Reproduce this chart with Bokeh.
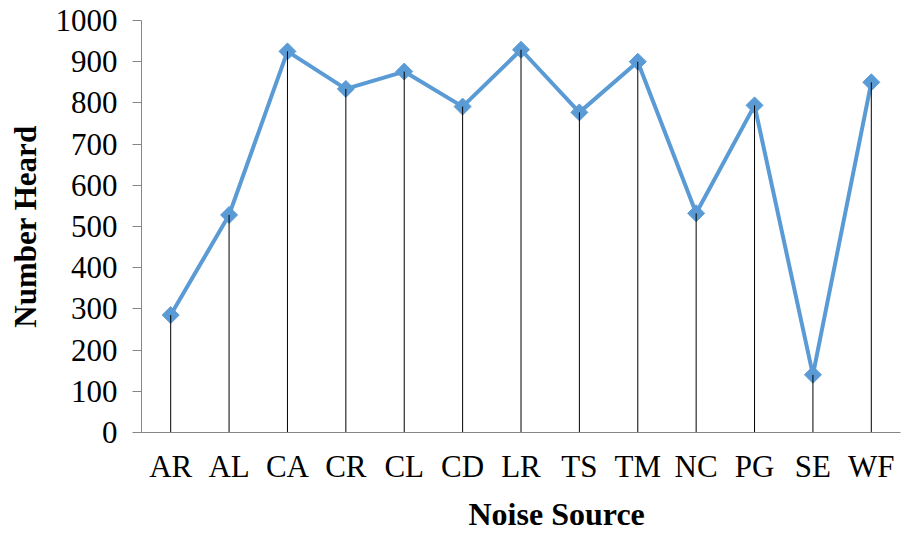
import math
from bokeh.plotting import figure
from bokeh.models import FactorRange, Range1d, ColumnDataSource, FixedTicker, Title
from bokeh.embed import file_html
from bokeh.resources import INLINE

categories = ["AR", "AL", "CA", "CR", "CL", "CD", "LR", "TS", "TM", "NC", "PG", "SE", "WF"]
number_heard = [285, 528, 925, 834, 876, 791, 929, 777, 900, 532, 794, 140, 850]
y_ticks = [0, 100, 200, 300, 400, 500, 600, 700, 800, 900, 1000]

src = ColumnDataSource(dict(cat=categories, val=number_heard, zero=[0] * len(categories)))

p = figure(
    x_range=FactorRange(*categories),
    y_range=Range1d(0, 1000),
    frame_width=759, frame_height=412,
    min_border_left=141, min_border_right=1, min_border_top=20, min_border_bottom=0,
    output_backend="svg", toolbar_location=None,
)
p.outline_line_color = None
p.grid.grid_line_color = None

FONT = "Liberation Serif"
LINE_COLOR = "#5B9BD5"

p.line("cat", "val", source=src, line_color=LINE_COLOR, line_width=4)
p.scatter("cat", "val", source=src, marker="square", angle=math.pi / 4,
          size=12, fill_color=LINE_COLOR, line_color=LINE_COLOR)
p.segment(x0="cat", y0="zero", x1="cat", y1="val", source=src,
          line_color="black", line_width=1)

# y axis
p.yaxis.ticker = FixedTicker(ticks=y_ticks)
p.yaxis.axis_line_color = "#868686"
p.yaxis.major_tick_line_color = "#868686"
p.yaxis.major_tick_out = 9
p.yaxis.major_tick_in = 0
p.yaxis.minor_tick_line_color = None
p.yaxis.major_label_text_font = FONT
p.yaxis.major_label_text_font_size = "31px"
p.yaxis.major_label_text_color = "black"
p.yaxis.major_label_standoff = 15
p.yaxis.axis_label = "Number Heard"
p.yaxis.axis_label_text_font = FONT
p.yaxis.axis_label_text_font_style = "bold"
p.yaxis.axis_label_text_font_size = "31px"
p.yaxis.axis_label_text_color = "black"
p.yaxis.axis_label_standoff = 10

# x axis
p.xaxis.axis_line_color = "#868686"
p.xaxis.major_tick_line_color = None
p.xaxis.major_tick_out = 0
p.xaxis.major_tick_in = 0
p.xaxis.major_label_text_font = FONT
p.xaxis.major_label_text_font_size = "31px"
p.xaxis.major_label_text_color = "black"
p.xaxis.major_label_standoff = 16

x_title = Title(text="Noise Source", text_font=FONT, text_font_style="bold",
                text_font_size="32px", text_color="black", align="left",
                offset=327, standoff=15)
p.add_layout(x_title, "below")

open("out.html", "w").write(file_html(p, INLINE))
